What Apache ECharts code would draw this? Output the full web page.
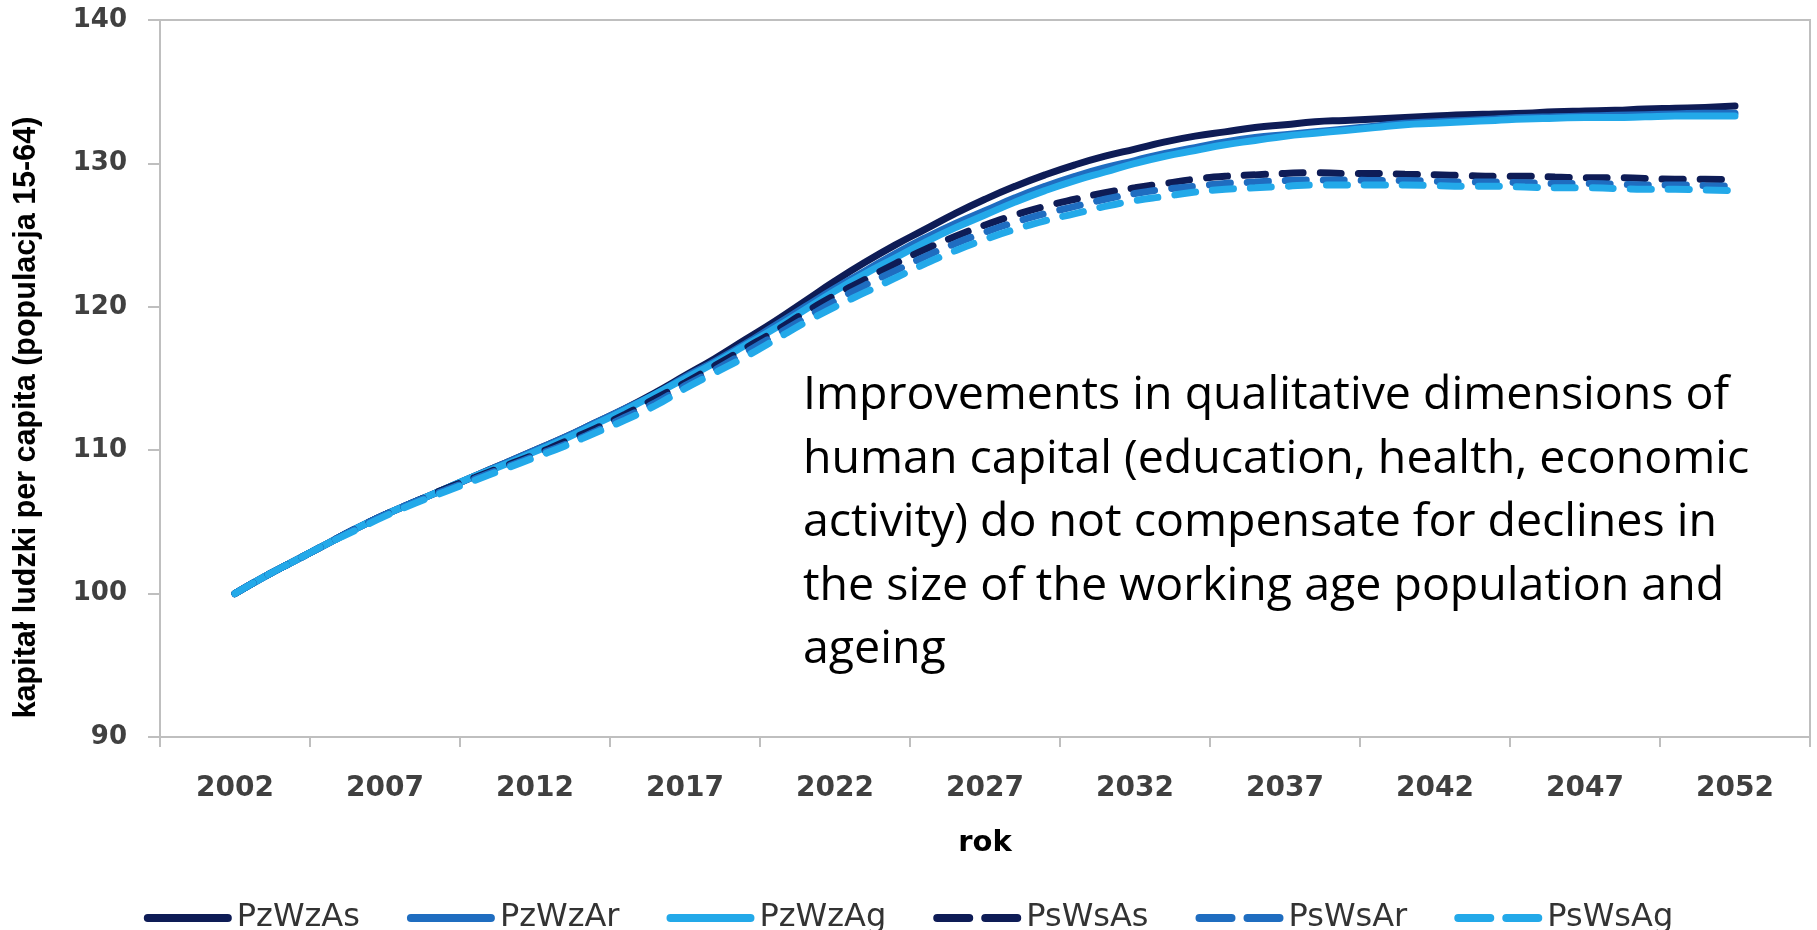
<!DOCTYPE html>
<html>
<head>
<meta charset="utf-8">
<title>kapitał ludzki per capita</title>
<script src="https://cdn.jsdelivr.net/npm/echarts@6/dist/echarts.min.js"></script>
<style>
  html, body { margin: 0; padding: 0; background: #fff; }
  #chart { width: 1817px; height: 930px; }
</style>
</head>
<body>
<div id="chart"></div>
<script>
// lata (dane roczne)
var years = [2002, 2003, 2004, 2005, 2006, 2007, 2008, 2009, 2010, 2011,
  2012, 2013, 2014, 2015, 2016, 2017, 2018, 2019, 2020, 2021,
  2022, 2023, 2024, 2025, 2026, 2027, 2028, 2029, 2030, 2031,
  2032, 2033, 2034, 2035, 2036, 2037, 2038, 2039, 2040, 2041,
  2042, 2043, 2044, 2045, 2046, 2047, 2048, 2049, 2050, 2051, 2052];

// etykiety osi X
var tickLabels = ['2002', '2007', '2012', '2017', '2022', '2027', '2032', '2037', '2042', '2047', '2052'];

var seriesNames = ['PzWzAs', 'PzWzAr', 'PzWzAg', 'PsWsAs', 'PsWsAr', 'PsWsAg'];

var PzWzAs = [100.0, 101.2, 102.3, 103.4, 104.5, 105.5, 106.4, 107.3, 108.2, 109.1,
  110.0, 110.9, 111.9, 112.9, 114.0, 115.2, 116.4, 117.7, 119.0, 120.4,
  121.8, 123.1, 124.3, 125.4, 126.5, 127.5, 128.4, 129.2, 129.9, 130.5,
  131.0, 131.5, 131.9, 132.2, 132.5, 132.7, 132.9, 133.0, 133.1, 133.2,
  133.3, 133.4, 133.45, 133.5, 133.6, 133.65, 133.7, 133.8, 133.85, 133.9, 134.0];

var PzWzAr = [100.0, 101.2, 102.3, 103.4, 104.5, 105.5, 106.4, 107.3, 108.2, 109.1,
  110.0, 110.9, 111.9, 112.9, 113.9, 115.1, 116.2, 117.4, 118.7, 120.0,
  121.3, 122.5, 123.7, 124.8, 125.8, 126.7, 127.6, 128.4, 129.1, 129.7,
  130.2, 130.7, 131.1, 131.5, 131.8, 132.0, 132.2, 132.4, 132.6, 132.8,
  132.9, 133.0, 133.1, 133.2, 133.25, 133.3, 133.35, 133.4, 133.45, 133.5, 133.5];

var PzWzAg = [100.0, 101.2, 102.3, 103.4, 104.5, 105.5, 106.4, 107.3, 108.2, 109.0,
  109.9, 110.8, 111.8, 112.8, 113.9, 115.0, 116.1, 117.3, 118.5, 119.8,
  121.1, 122.3, 123.4, 124.5, 125.5, 126.4, 127.3, 128.1, 128.8, 129.4,
  130.0, 130.5, 130.9, 131.3, 131.6, 131.9, 132.1, 132.3, 132.5, 132.7,
  132.8, 132.9, 133.0, 133.1, 133.15, 133.2, 133.2, 133.25, 133.3, 133.3, 133.3];

var PsWsAs = [100.0, 101.2, 102.3, 103.4, 104.5, 105.5, 106.4, 107.3, 108.1, 108.9,
  109.7, 110.6, 111.5, 112.5, 113.6, 114.7, 115.9, 117.1, 118.3, 119.6,
  120.8, 121.9, 123.0, 124.0, 124.9, 125.7, 126.4, 127.0, 127.5, 127.95,
  128.3, 128.6, 128.9, 129.1, 129.2, 129.3, 129.35, 129.3, 129.3, 129.25,
  129.2, 129.15, 129.1, 129.1, 129.05, 129.0, 129.0, 128.95, 128.9, 128.9, 128.85];

var PsWsAr = [100.0, 101.2, 102.3, 103.4, 104.5, 105.5, 106.4, 107.2, 108.0, 108.8,
  109.6, 110.4, 111.3, 112.3, 113.3, 114.5, 115.6, 116.8, 118.0, 119.2,
  120.4, 121.5, 122.5, 123.5, 124.4, 125.2, 125.9, 126.5, 127.0, 127.5,
  127.9, 128.2, 128.4, 128.6, 128.7, 128.8, 128.85, 128.85, 128.8, 128.8,
  128.75, 128.7, 128.7, 128.65, 128.6, 128.6, 128.55, 128.5, 128.5, 128.45, 128.4];

var PsWsAg = [100.0, 101.2, 102.3, 103.4, 104.4, 105.4, 106.3, 107.1, 107.9, 108.7,
  109.5, 110.3, 111.2, 112.1, 113.1, 114.3, 115.4, 116.5, 117.7, 118.9,
  120.0, 121.0, 122.0, 123.0, 123.9, 124.7, 125.4, 126.0, 126.5, 127.0,
  127.4, 127.7, 128.0, 128.2, 128.3, 128.4, 128.5, 128.5, 128.5, 128.5,
  128.45, 128.4, 128.4, 128.35, 128.3, 128.3, 128.25, 128.2, 128.2, 128.15, 128.1];

var annotationLines = [
  'Improvements in qualitative dimensions of',
  'human capital (education, health, economic',
  'activity) do not compensate for declines in',
  'the size of the working age population and',
  'ageing'
];

var seriesValues = [PzWzAs, PzWzAr, PzWzAg, PsWsAs, PsWsAr, PsWsAg];
var colors = ['#0e1c56', '#1f6dc0', '#23a9e9', '#0e1c56', '#1f6dc0', '#23a9e9'];
var axisGrey = '#bfbfbf';

// ikony legendy: ciagla kreska i dwie kreski
var solidIcon = 'path://M4,0 L84,0 A4,4 0 0 1 84,8 L4,8 A4,4 0 0 1 4,0 Z';
var dashIcon = 'path://M4,0 L36,0 A4,4 0 0 1 36,8 L4,8 A4,4 0 0 1 4,0 Z ' +
  'M52,0 L84,0 A4,4 0 0 1 84,8 L52,8 A4,4 0 0 1 52,0 Z';

var chart = echarts.init(document.getElementById('chart'));

var series = seriesNames.map(function (name, i) {
  var dashed = i >= 3;
  return {
    name: name,
    type: 'line',
    xAxisIndex: 1,
    smooth: true,
    symbol: 'none',
    data: years.map(function (y, k) { return [y, seriesValues[i][k]]; }),
    itemStyle: { color: colors[i] },
    lineStyle: {
      color: colors[i],
      width: 7,
      type: dashed ? [21, 17] : 'solid',
      cap: 'round'
    }
  };
});

chart.setOption({
  animation: false,
  grid: {
    left: 160,
    right: 7,
    top: 20,
    bottom: 193,
    show: true,
    borderColor: axisGrey,
    borderWidth: 2
  },
  legend: {
    data: seriesNames.map(function (name, i) {
      return { name: name, icon: i >= 3 ? dashIcon : solidIcon };
    }),
    left: 'center',
    top: 897,
    itemWidth: 88,
    itemHeight: 8,
    itemGap: 47,
    selectedMode: false,
    textStyle: { fontFamily: 'DejaVu Sans', fontSize: 32, color: '#333' }
  },
  xAxis: [
    {
      type: 'category',
      data: tickLabels,
      boundaryGap: true,
      axisLine: { lineStyle: { color: axisGrey, width: 2 } },
      axisTick: { show: true, length: 10, lineStyle: { color: axisGrey, width: 2 } },
      axisLabel: {
        margin: 38,
        fontFamily: 'DejaVu Sans',
        fontSize: 28,
        fontWeight: 'bold',
        color: '#404040'
      },
      name: 'rok',
      nameLocation: 'middle',
      nameGap: 92,
      nameTextStyle: { fontFamily: 'DejaVu Sans', fontSize: 29, fontWeight: 'bold', color: '#000' }
    },
    {
      type: 'value',
      position: 'top',
      min: 1999.5,
      max: 2054.5,
      show: false
    }
  ],
  yAxis: {
    type: 'value',
    min: 90,
    max: 140,
    interval: 10,
    axisLine: { show: true, lineStyle: { color: axisGrey, width: 2 } },
    axisTick: { show: true, length: 12, lineStyle: { color: axisGrey, width: 2 } },
    splitLine: { show: false },
    axisLabel: {
      margin: 33,
      fontFamily: 'DejaVu Sans',
      fontSize: 26,
      fontWeight: 'bold',
      color: '#404040'
    },
    name: 'kapitał ludzki per capita (populacja 15-64)',
    nameLocation: 'middle',
    nameGap: 118,
    nameTextStyle: {
      fontFamily: 'Liberation Sans',
      fontSize: 30.5,
      fontWeight: 'bold',
      color: '#000',
      padding: [0, 78, 0, 0]
    }
  },
  graphic: [
    {
      type: 'text',
      left: 803,
      top: 364,
      style: {
        text: annotationLines.join('\n'),
        font: '46.5px "Open Sans"',
        fill: '#000',
        lineHeight: 63.6
      }
    }
  ],
  series: series
});
</script>
</body>
</html>
